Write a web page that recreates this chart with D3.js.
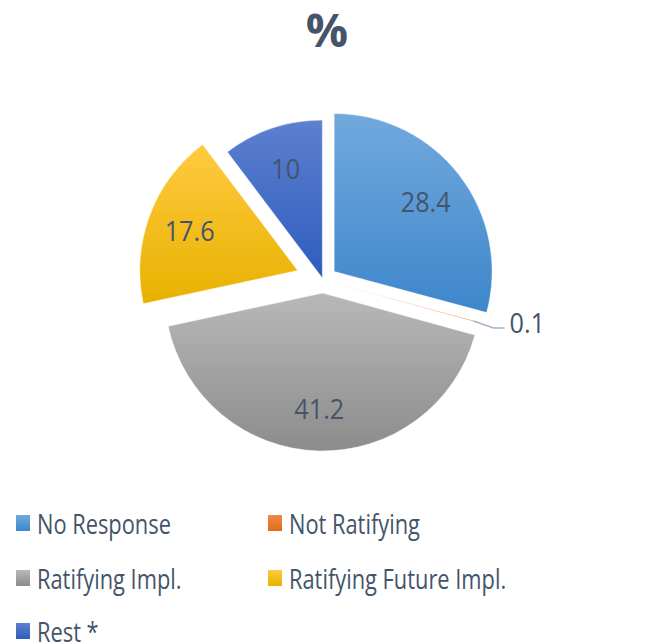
<!DOCTYPE html>
<html>
<head>
<meta charset="utf-8">
<script src="https://cdn.jsdelivr.net/npm/d3@7"></script>
<style>
  body { margin: 0; background: #fff; }
  text { font-family: "Open Sans", sans-serif; fill: #44546A; }
</style>
</head>
<body>
<div id="pieData"></div>
<script>
// chart data
const categories = ["No Response", "Not Ratifying", "Ratifying Impl.", "Ratifying Future Impl.", "Rest *"];
const values = [28.4, 0.1, 41.2, 17.6, 10];
const labels = ["28.4", "0.1", "41.2", "17.6", "10"];

// look
const topColors = ["#72a9dd", "#f08a48", "#b8b8b8", "#ffca40", "#5d80cf"];
const bottomColors = ["#3d86cb", "#e06a1c", "#8c8c8c", "#e8b100", "#2e5cbd"];
const explode = [14, 2, 13, 27, 2];

const width = 654,
    height = 643,
    radius = 158,
    cx = 323,
    cy = 280;

let svg = d3.select("#pieData")
    .append("svg")
    .attr("width", width)
    .attr("height", height);

let defs = svg.append("defs");
categories.forEach(function (c, i) {
    let g = defs.append("linearGradient")
        .attr("id", "grad" + i)
        .attr("x1", 0).attr("y1", 0)
        .attr("x2", 0).attr("y2", 1);
    g.append("stop").attr("offset", "0%").attr("stop-color", topColors[i]);
    g.append("stop").attr("offset", "100%").attr("stop-color", bottomColors[i]);
});

// title
svg.append("text")
    .attr("x", width / 2)
    .attr("y", 47)
    .attr("text-anchor", "middle")
    .style("font-weight", "bold")
    .style("font-size", "47px")
    .text("%");

let pie = d3.pie().sort(null).value(function (d) { return d; });
let data_ready = pie(values);

let arc = d3.arc().innerRadius(0).outerRadius(radius);
let labelArc = d3.arc().innerRadius(radius * 0.73).outerRadius(radius * 0.73);

function offset(d, i) {
    let a = (d.startAngle + d.endAngle) / 2;
    return [cx + explode[i] * Math.sin(a), cy - explode[i] * Math.cos(a)];
}

let slices = svg.selectAll("g.slice")
    .data(data_ready)
    .enter()
    .append("g")
    .attr("class", "slice")
    .attr("transform", function (d, i) { return "translate(" + offset(d, i) + ")"; });

slices.append("path")
    .attr("d", arc)
    .attr("fill", function (d, i) { return "url(#grad" + i + ")"; })
    .attr("stroke", "#fff")
    .style("stroke-width", "0.5px");

// labels inside, except the tiny slice
slices.filter(function (d) { return d.value >= 1; })
    .append("text")
    .attr("transform", function (d) { return "translate(" + labelArc.centroid(d) + ") scale(0.9,1)"; })
    .attr("text-anchor", "middle")
    .attr("dominant-baseline", "central")
    .style("font-size", "28px")
    .text(function (d) { return labels[d.index]; });

// leader line + label for tiny slice
slices.filter(function (d) { return d.value < 1; })
    .each(function (d) {
        let a = (d.startAngle + d.endAngle) / 2;
        let r0 = radius - 4;
        let p0 = [r0 * Math.sin(a), -r0 * Math.cos(a)];
        let p1 = [p0[0] + 20, p0[1] + 7];
        let p2 = [p1[0] + 11, p1[1]];
        d3.select(this).append("polyline")
            .attr("points", [p0, p1, p2].map(function (p) { return p.join(","); }).join(" "))
            .attr("fill", "none")
            .attr("stroke", "#a6b3c8")
            .style("stroke-width", "1.5px");
        d3.select(this).append("text")
            .attr("transform", "translate(" + (p2[0] + 5) + "," + (p2[1] - 6) + ") scale(0.9,1)")
            .attr("dominant-baseline", "central")
            .style("font-size", "28px")
            .text(labels[d.index]);
    });

// legend
const legendX = [16, 268];
const rowY = [523, 578, 631];
let legend = svg.selectAll("g.legend")
    .data(categories)
    .enter()
    .append("g")
    .attr("class", "legend")
    .attr("transform", function (d, i) {
        return "translate(" + legendX[i % 2] + "," + rowY[Math.floor(i / 2)] + ")";
    });

legend.append("rect")
    .attr("x", 0)
    .attr("y", -8)
    .attr("width", 14)
    .attr("height", 16)
    .attr("fill", function (d, i) { return "url(#grad" + i + ")"; });

legend.append("text")
    .attr("transform", "translate(21,0) scale(0.78,1)")
    .attr("dominant-baseline", "central")
    .style("font-size", "28px")
    .text(function (d) { return d; });
</script>
</body>
</html>
